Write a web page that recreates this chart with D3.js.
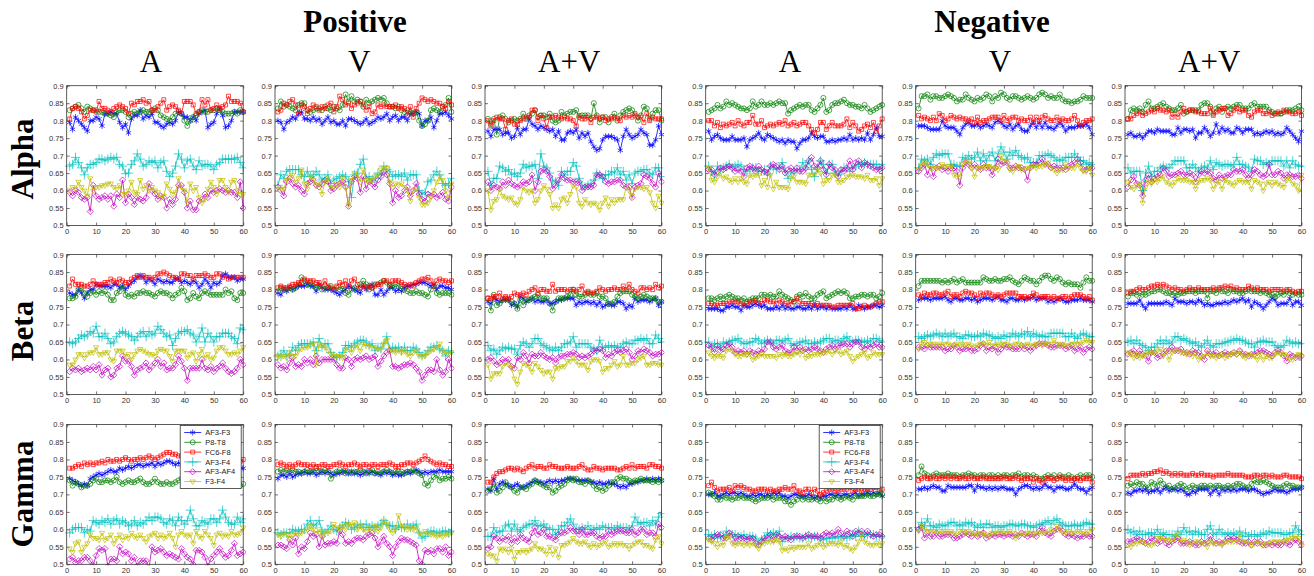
<!DOCTYPE html>
<html><head><meta charset="utf-8">
<script src="https://cdn.jsdelivr.net/npm/d3@7"></script>
<style>body{margin:0;background:#fff}svg{display:block}</style>
</head><body><svg id="c" width="1314" height="576"></svg>
<script>
const groups=["Positive","Negative"];
const conditions=["A","V","A+V","A","V","A+V"];
const bands=["Alpha","Beta","Gamma"];
const seriesNames=["AF3-F3","P8-T8","FC6-F8","AF3-F4","AF3-AF4","F3-F4"];
const xTicks=[0,10,20,30,40,50,60];
const yTicks=[0.5,0.55,0.6,0.65,0.7,0.75,0.8,0.85,0.9];

// each panel: [AF3-F3, P8-T8, FC6-F8, AF3-F4, AF3-AF4, F3-F4], 60 trials
const alphaPosA=[
[.795,.775,.81,.80,.79,.78,.77,.80,.80,.81,.805,.785,.82,.82,.825,.82,.82,.795,.78,.79,.765,.805,.815,.815,.83,.805,.815,.81,.82,.795,.795,.785,.78,.79,.795,.79,.80,.825,.82,.81,.81,.80,.81,.80,.82,.825,.83,.78,.79,.795,.82,.835,.815,.78,.785,.80,.825,.825,.825,.825],
[.83,.835,.84,.845,.835,.825,.84,.835,.83,.83,.825,.825,.82,.82,.815,.81,.825,.83,.83,.825,.81,.82,.825,.82,.825,.83,.825,.825,.83,.835,.83,.815,.81,.805,.80,.81,.82,.825,.82,.80,.785,.80,.81,.815,.825,.83,.825,.825,.83,.83,.835,.83,.825,.82,.82,.82,.825,.82,.83,.825],
[.805,.835,.84,.835,.825,.805,.815,.83,.83,.825,.855,.835,.835,.83,.825,.835,.84,.845,.84,.835,.82,.85,.845,.855,.855,.86,.85,.855,.83,.83,.84,.85,.86,.83,.84,.845,.84,.83,.82,.855,.855,.855,.845,.82,.825,.86,.845,.86,.83,.835,.845,.835,.84,.845,.87,.855,.855,.855,.85,.825],
[.67,.675,.695,.68,.665,.645,.665,.675,.675,.68,.69,.69,.685,.69,.695,.69,.695,.675,.67,.648,.65,.675,.685,.705,.69,.67,.675,.685,.68,.685,.665,.68,.685,.655,.64,.65,.67,.705,.69,.665,.685,.69,.67,.66,.685,.67,.675,.675,.67,.66,.675,.68,.69,.69,.69,.69,.69,.695,.68,.665],
[.595,.585,.60,.595,.58,.575,.58,.54,.615,.585,.575,.58,.585,.575,.585,.555,.59,.58,.63,.565,.59,.58,.56,.58,.575,.57,.58,.62,.60,.59,.575,.585,.58,.55,.575,.56,.575,.615,.615,.595,.55,.57,.545,.545,.57,.575,.59,.58,.60,.595,.60,.605,.60,.595,.60,.595,.595,.58,.625,.55],
[.60,.61,.605,.625,.61,.60,.585,.635,.60,.61,.61,.615,.615,.62,.62,.61,.605,.615,.59,.59,.60,.625,.595,.59,.63,.605,.615,.60,.61,.60,.595,.58,.585,.62,.605,.59,.595,.635,.61,.60,.565,.62,.60,.61,.58,.565,.575,.605,.625,.61,.59,.63,.63,.61,.595,.625,.63,.60,.59,.59]];
const alphaPosV=[
[.80,.795,.775,.795,.80,.81,.805,.82,.825,.805,.805,.80,.81,.80,.805,.79,.80,.81,.795,.80,.79,.79,.80,.785,.805,.805,.80,.795,.79,.795,.805,.79,.795,.80,.81,.805,.81,.82,.80,.81,.815,.80,.81,.81,.80,.82,.82,.825,.82,.785,.80,.80,.81,.78,.80,.82,.82,.825,.815,.805],
[.835,.855,.84,.845,.84,.835,.83,.845,.85,.85,.83,.825,.83,.835,.835,.83,.84,.835,.83,.84,.835,.83,.845,.875,.855,.87,.855,.86,.855,.84,.86,.85,.855,.86,.865,.86,.865,.85,.84,.84,.835,.84,.83,.825,.83,.825,.82,.825,.80,.785,.79,.80,.83,.835,.83,.825,.84,.845,.865,.825],
[.825,.83,.85,.845,.855,.86,.845,.82,.845,.84,.82,.835,.845,.84,.83,.84,.835,.845,.85,.825,.84,.87,.86,.845,.85,.835,.845,.85,.855,.845,.83,.84,.82,.825,.845,.84,.845,.84,.84,.84,.845,.835,.84,.835,.815,.84,.81,.835,.85,.865,.86,.855,.86,.855,.85,.85,.84,.835,.855,.845],
[.615,.645,.635,.655,.66,.66,.66,.66,.645,.64,.655,.64,.645,.655,.645,.63,.635,.645,.62,.63,.635,.64,.645,.64,.625,.58,.645,.65,.675,.69,.635,.64,.63,.635,.65,.645,.67,.66,.655,.64,.645,.645,.64,.65,.63,.645,.645,.645,.60,.59,.595,.625,.63,.645,.655,.645,.62,.615,.62,.635],
[.61,.60,.585,.625,.635,.62,.61,.615,.60,.59,.62,.625,.63,.615,.61,.62,.63,.625,.60,.605,.615,.62,.625,.61,.555,.625,.64,.635,.595,.64,.605,.625,.62,.61,.63,.64,.655,.645,.62,.565,.60,.58,.585,.60,.61,.585,.60,.62,.59,.575,.57,.59,.585,.59,.58,.585,.595,.575,.57,.61],
[.61,.605,.605,.63,.64,.645,.625,.635,.66,.62,.605,.64,.63,.615,.62,.59,.625,.635,.61,.61,.62,.61,.635,.61,.56,.63,.65,.645,.625,.66,.63,.625,.63,.64,.645,.66,.665,.665,.625,.61,.62,.615,.62,.61,.60,.57,.60,.605,.58,.56,.56,.565,.58,.60,.625,.64,.63,.60,.58,.62]];
const alphaPosAV=[
[.77,.755,.775,.775,.775,.76,.765,.765,.75,.755,.78,.76,.775,.775,.805,.79,.785,.775,.785,.78,.775,.77,.775,.755,.77,.745,.745,.765,.77,.765,.775,.75,.765,.755,.765,.74,.725,.715,.72,.745,.755,.755,.755,.75,.745,.715,.755,.775,.76,.75,.755,.76,.775,.765,.76,.73,.73,.745,.785,.76],
[.805,.79,.805,.76,.81,.815,.805,.795,.80,.805,.80,.805,.82,.805,.815,.82,.83,.81,.815,.815,.81,.82,.80,.795,.80,.825,.815,.82,.825,.825,.83,.81,.815,.815,.815,.805,.85,.815,.795,.81,.81,.795,.81,.82,.80,.815,.825,.83,.835,.83,.815,.80,.815,.84,.835,.805,.82,.83,.83,.80],
[.80,.785,.80,.81,.805,.805,.775,.80,.805,.79,.79,.80,.805,.81,.81,.83,.83,.80,.815,.805,.78,.81,.81,.815,.81,.805,.81,.805,.805,.80,.785,.815,.805,.805,.81,.795,.81,.81,.805,.81,.80,.805,.805,.81,.805,.80,.815,.81,.815,.81,.82,.81,.81,.795,.82,.80,.81,.805,.805,.805],
[.655,.615,.635,.635,.67,.665,.655,.66,.645,.65,.64,.65,.675,.665,.67,.67,.675,.635,.705,.67,.665,.65,.63,.625,.615,.655,.645,.655,.655,.68,.67,.635,.615,.61,.615,.62,.63,.65,.645,.635,.645,.645,.655,.65,.665,.645,.655,.63,.645,.62,.65,.655,.655,.66,.66,.65,.645,.665,.665,.64],
[.625,.60,.615,.61,.605,.625,.615,.63,.62,.615,.61,.615,.625,.62,.625,.645,.60,.625,.655,.66,.655,.64,.605,.615,.63,.645,.635,.63,.63,.625,.625,.625,.60,.61,.61,.61,.615,.645,.645,.64,.625,.62,.625,.625,.63,.63,.615,.61,.61,.58,.61,.615,.62,.645,.64,.635,.62,.61,.65,.625],
[.60,.545,.57,.575,.605,.585,.58,.575,.58,.565,.56,.575,.61,.60,.595,.60,.565,.575,.60,.615,.605,.59,.55,.56,.55,.575,.58,.565,.59,.615,.61,.565,.555,.575,.565,.56,.565,.56,.545,.565,.58,.555,.575,.565,.575,.575,.575,.61,.60,.585,.605,.61,.61,.605,.61,.595,.565,.55,.585,.565]];
const alphaNegA=[
[.77,.745,.755,.76,.75,.745,.745,.745,.755,.745,.745,.745,.75,.725,.745,.75,.755,.765,.75,.745,.76,.755,.75,.745,.74,.745,.735,.745,.74,.74,.72,.735,.745,.745,.75,.765,.755,.75,.755,.755,.74,.74,.745,.74,.745,.745,.75,.745,.76,.745,.75,.745,.75,.745,.765,.745,.76,.78,.755,.755],
[.825,.83,.835,.845,.835,.84,.855,.845,.85,.845,.84,.835,.835,.83,.835,.855,.84,.845,.855,.845,.845,.85,.845,.85,.855,.85,.85,.82,.83,.835,.84,.845,.84,.845,.845,.83,.825,.835,.845,.865,.825,.83,.845,.85,.85,.855,.86,.85,.845,.845,.84,.84,.835,.845,.835,.825,.83,.835,.84,.845],
[.80,.80,.785,.795,.78,.79,.785,.79,.795,.785,.80,.79,.785,.795,.795,.815,.79,.79,.80,.78,.785,.79,.785,.79,.795,.79,.80,.785,.79,.795,.785,.79,.795,.795,.785,.775,.765,.775,.795,.795,.775,.785,.795,.785,.785,.785,.79,.805,.78,.795,.785,.77,.775,.785,.79,.78,.795,.77,.785,.805],
[.67,.655,.645,.67,.66,.665,.67,.675,.665,.67,.675,.67,.66,.655,.66,.665,.665,.655,.655,.66,.645,.67,.665,.66,.665,.68,.655,.635,.65,.655,.66,.66,.68,.665,.685,.66,.64,.665,.685,.675,.65,.675,.675,.65,.645,.655,.665,.665,.655,.665,.67,.675,.675,.68,.675,.675,.675,.675,.665,.675],
[.66,.66,.645,.655,.665,.66,.665,.67,.665,.655,.66,.655,.64,.665,.67,.665,.655,.67,.66,.655,.65,.67,.675,.67,.66,.67,.65,.66,.665,.655,.665,.655,.655,.665,.685,.695,.67,.665,.685,.66,.645,.675,.665,.66,.64,.66,.655,.665,.685,.66,.68,.685,.665,.68,.675,.67,.665,.66,.66,.665],
[.665,.63,.625,.64,.65,.635,.64,.63,.625,.635,.625,.635,.625,.62,.645,.64,.645,.645,.615,.63,.61,.645,.605,.625,.61,.61,.61,.605,.635,.64,.625,.625,.625,.62,.645,.645,.645,.66,.65,.62,.63,.63,.645,.645,.625,.625,.63,.64,.64,.645,.64,.64,.64,.635,.645,.63,.63,.635,.615,.635]];
const alphaNegV=[
[.785,.785,.785,.78,.775,.775,.775,.775,.80,.785,.78,.78,.78,.77,.76,.78,.79,.795,.785,.785,.79,.78,.785,.79,.785,.78,.795,.80,.795,.785,.78,.79,.775,.785,.79,.775,.77,.77,.785,.795,.78,.795,.78,.795,.78,.78,.775,.785,.795,.785,.77,.78,.78,.78,.785,.785,.785,.79,.78,.76],
[.835,.87,.87,.875,.86,.87,.87,.865,.865,.87,.875,.87,.865,.855,.86,.86,.875,.865,.86,.855,.865,.86,.865,.875,.87,.855,.87,.865,.88,.875,.865,.86,.87,.87,.865,.86,.865,.87,.865,.86,.865,.875,.88,.875,.865,.87,.865,.865,.875,.86,.855,.855,.85,.855,.855,.86,.87,.865,.865,.865],
[.815,.805,.81,.805,.80,.81,.80,.82,.815,.80,.805,.815,.81,.805,.81,.805,.805,.80,.805,.795,.81,.795,.80,.80,.805,.81,.81,.81,.80,.815,.80,.805,.81,.81,.80,.805,.80,.80,.81,.795,.81,.80,.81,.815,.805,.80,.80,.81,.80,.805,.80,.80,.805,.815,.80,.785,.795,.80,.80,.805],
[.665,.69,.685,.69,.675,.695,.705,.70,.705,.705,.705,.675,.675,.67,.67,.695,.69,.70,.69,.695,.71,.685,.705,.685,.70,.71,.685,.705,.725,.71,.69,.71,.70,.715,.70,.695,.69,.695,.68,.68,.68,.70,.70,.70,.705,.70,.695,.685,.69,.685,.695,.695,.695,.705,.695,.685,.685,.675,.68,.675],
[.655,.665,.675,.645,.67,.64,.665,.67,.66,.665,.655,.665,.665,.655,.615,.665,.68,.675,.665,.675,.665,.66,.675,.665,.665,.645,.665,.69,.675,.68,.68,.665,.665,.67,.665,.665,.66,.63,.665,.675,.675,.68,.69,.675,.675,.665,.67,.665,.665,.665,.66,.67,.675,.68,.69,.68,.66,.66,.665,.665],
[.66,.67,.68,.675,.665,.665,.665,.665,.675,.67,.665,.67,.645,.64,.64,.675,.685,.68,.665,.64,.665,.665,.665,.67,.67,.665,.665,.66,.70,.685,.685,.66,.655,.665,.67,.66,.66,.665,.665,.67,.665,.67,.67,.675,.68,.665,.66,.65,.66,.66,.675,.665,.665,.665,.68,.665,.655,.655,.665,.645]];
const alphaNegAV=[
[.76,.765,.755,.755,.76,.75,.76,.77,.77,.765,.775,.77,.77,.77,.77,.76,.76,.78,.765,.775,.775,.77,.775,.75,.765,.765,.78,.77,.755,.765,.79,.765,.78,.77,.775,.765,.765,.78,.775,.765,.775,.775,.775,.76,.765,.76,.765,.77,.765,.77,.76,.765,.76,.765,.78,.77,.76,.75,.74,.77],
[.805,.83,.835,.83,.835,.825,.845,.855,.835,.835,.84,.845,.85,.84,.835,.83,.83,.835,.845,.82,.825,.83,.83,.83,.83,.845,.85,.85,.84,.82,.835,.84,.825,.835,.84,.835,.84,.845,.845,.835,.835,.835,.845,.85,.84,.84,.84,.84,.83,.825,.82,.82,.82,.825,.83,.83,.83,.835,.84,.83],
[.805,.805,.815,.82,.825,.815,.82,.825,.83,.825,.835,.83,.83,.825,.83,.81,.82,.81,.825,.835,.825,.83,.83,.825,.825,.82,.82,.82,.835,.815,.825,.83,.835,.835,.815,.82,.83,.835,.825,.83,.83,.815,.81,.825,.83,.83,.82,.82,.825,.815,.82,.825,.82,.83,.825,.825,.82,.82,.825,.815],
[.665,.65,.655,.655,.655,.60,.65,.67,.64,.655,.655,.665,.67,.665,.665,.675,.685,.685,.685,.685,.665,.665,.675,.665,.655,.665,.67,.665,.685,.66,.68,.675,.67,.675,.675,.67,.675,.695,.675,.675,.67,.665,.655,.69,.685,.685,.675,.68,.675,.685,.685,.685,.685,.67,.685,.665,.685,.675,.67,.67],
[.61,.63,.64,.62,.615,.585,.63,.645,.625,.635,.64,.645,.665,.655,.64,.645,.645,.65,.655,.645,.645,.65,.645,.625,.645,.655,.65,.655,.65,.635,.63,.645,.635,.64,.645,.645,.66,.655,.655,.66,.645,.635,.645,.66,.655,.645,.64,.645,.675,.645,.645,.655,.65,.635,.645,.645,.64,.64,.645,.635],
[.625,.61,.605,.615,.62,.565,.61,.625,.62,.63,.625,.635,.64,.625,.62,.615,.625,.635,.63,.63,.63,.625,.625,.605,.625,.63,.63,.635,.63,.605,.62,.625,.605,.63,.625,.62,.615,.625,.63,.625,.625,.625,.605,.63,.625,.62,.60,.62,.625,.615,.625,.62,.615,.61,.63,.635,.62,.615,.60,.645]];
const betaPosA=[
[.79,.785,.785,.80,.79,.775,.79,.80,.80,.815,.81,.81,.81,.81,.805,.815,.815,.805,.81,.80,.81,.82,.825,.835,.84,.835,.82,.83,.825,.815,.83,.825,.82,.825,.82,.82,.83,.83,.82,.825,.82,.815,.825,.82,.805,.815,.83,.82,.805,.82,.815,.82,.84,.845,.835,.835,.835,.825,.83,.83],
[.775,.775,.78,.80,.805,.79,.78,.79,.795,.785,.795,.79,.795,.785,.77,.77,.79,.795,.81,.785,.78,.785,.78,.79,.79,.795,.79,.79,.785,.78,.79,.795,.79,.79,.785,.775,.785,.79,.805,.795,.77,.775,.79,.78,.775,.79,.795,.79,.785,.785,.785,.785,.785,.80,.79,.795,.775,.77,.79,.79],
[.81,.83,.815,.815,.815,.81,.81,.815,.825,.815,.815,.815,.82,.82,.83,.825,.82,.83,.825,.82,.82,.83,.835,.84,.835,.84,.835,.835,.83,.835,.845,.845,.85,.845,.84,.835,.835,.83,.845,.845,.84,.84,.83,.84,.84,.84,.845,.84,.835,.835,.845,.845,.835,.84,.83,.835,.835,.835,.835,.835],
[.65,.645,.65,.66,.67,.665,.67,.68,.675,.695,.665,.665,.675,.66,.645,.65,.665,.675,.68,.675,.67,.665,.655,.665,.675,.68,.665,.68,.67,.675,.695,.685,.675,.665,.67,.64,.66,.675,.68,.68,.685,.675,.67,.65,.665,.69,.65,.675,.665,.65,.665,.665,.675,.675,.675,.665,.66,.645,.69,.685],
[.565,.575,.57,.575,.565,.57,.575,.57,.58,.57,.585,.555,.57,.575,.55,.555,.575,.58,.61,.595,.595,.58,.555,.57,.575,.58,.59,.57,.58,.59,.60,.58,.59,.57,.575,.575,.585,.61,.595,.575,.54,.575,.575,.575,.575,.60,.575,.57,.58,.565,.575,.58,.59,.575,.565,.56,.565,.575,.60,.585],
[.585,.585,.60,.615,.615,.605,.615,.62,.62,.635,.615,.615,.62,.62,.60,.595,.625,.625,.625,.61,.615,.60,.615,.625,.63,.625,.62,.615,.615,.61,.625,.63,.625,.625,.61,.595,.625,.625,.625,.625,.605,.615,.62,.595,.615,.63,.605,.615,.60,.605,.625,.635,.635,.625,.615,.615,.62,.615,.625,.635]];
const betaPosV=[
[.79,.785,.80,.795,.805,.80,.805,.81,.81,.81,.815,.81,.81,.795,.815,.805,.80,.80,.80,.795,.79,.785,.795,.80,.81,.805,.80,.795,.79,.81,.80,.81,.815,.785,.785,.80,.785,.795,.805,.805,.795,.80,.795,.805,.81,.81,.815,.815,.82,.82,.82,.815,.81,.815,.80,.81,.81,.805,.805,.80],
[.795,.805,.80,.80,.805,.80,.805,.815,.835,.825,.815,.82,.81,.805,.81,.80,.81,.805,.81,.80,.805,.80,.81,.79,.785,.80,.805,.80,.815,.825,.815,.80,.805,.815,.815,.82,.825,.82,.81,.81,.815,.81,.81,.80,.795,.79,.79,.795,.79,.79,.785,.78,.80,.81,.79,.785,.79,.79,.79,.785],
[.805,.81,.805,.805,.81,.815,.815,.82,.82,.83,.825,.825,.825,.82,.82,.81,.825,.81,.805,.80,.81,.82,.815,.825,.81,.825,.83,.815,.805,.81,.805,.81,.805,.81,.815,.815,.825,.825,.815,.825,.825,.825,.82,.815,.81,.815,.81,.82,.825,.83,.83,.835,.825,.81,.825,.83,.825,.825,.82,.825],
[.61,.615,.625,.61,.615,.635,.625,.64,.645,.645,.645,.645,.65,.625,.66,.635,.645,.645,.62,.61,.605,.61,.62,.64,.64,.635,.645,.65,.655,.655,.65,.64,.645,.625,.635,.63,.645,.665,.63,.635,.63,.635,.625,.635,.625,.625,.635,.63,.62,.61,.615,.625,.635,.635,.64,.63,.625,.61,.625,.62],
[.585,.575,.58,.57,.59,.605,.58,.585,.58,.60,.59,.60,.585,.61,.59,.60,.60,.60,.60,.60,.585,.575,.575,.605,.60,.58,.60,.605,.60,.605,.61,.60,.605,.61,.58,.595,.61,.62,.625,.58,.58,.575,.58,.585,.585,.59,.585,.575,.565,.54,.555,.57,.57,.565,.60,.57,.555,.565,.60,.575],
[.61,.605,.61,.605,.62,.61,.61,.625,.63,.635,.635,.64,.645,.585,.645,.64,.635,.625,.615,.61,.61,.61,.605,.63,.63,.62,.635,.64,.625,.645,.64,.64,.635,.635,.63,.63,.645,.655,.625,.625,.62,.625,.62,.625,.615,.61,.62,.625,.61,.61,.61,.62,.625,.63,.635,.645,.62,.625,.615,.62]];
const betaPosAV=[
[.765,.76,.775,.77,.765,.77,.77,.77,.755,.76,.75,.78,.775,.765,.77,.775,.765,.77,.765,.765,.77,.76,.76,.765,.77,.77,.775,.775,.775,.775,.755,.765,.76,.765,.765,.76,.765,.755,.765,.75,.755,.76,.755,.755,.765,.765,.76,.745,.755,.75,.775,.765,.77,.77,.77,.765,.77,.775,.755,.765],
[.775,.74,.785,.755,.76,.77,.775,.77,.765,.76,.745,.77,.755,.77,.77,.775,.78,.785,.775,.775,.775,.76,.74,.765,.775,.775,.775,.78,.785,.80,.785,.78,.78,.785,.79,.785,.785,.79,.78,.78,.775,.76,.76,.765,.78,.79,.795,.795,.795,.785,.78,.775,.78,.785,.78,.775,.775,.775,.765,.765],
[.775,.775,.78,.78,.79,.775,.78,.775,.78,.79,.785,.785,.79,.785,.795,.80,.805,.79,.80,.80,.795,.795,.815,.795,.80,.80,.80,.795,.80,.80,.795,.80,.81,.79,.795,.79,.79,.795,.805,.80,.795,.80,.80,.805,.80,.80,.81,.80,.815,.80,.795,.79,.805,.805,.80,.805,.80,.815,.805,.81],
[.64,.625,.63,.615,.625,.635,.63,.635,.63,.63,.615,.64,.65,.645,.635,.645,.66,.66,.645,.64,.635,.63,.625,.635,.625,.635,.645,.645,.65,.665,.635,.645,.645,.645,.645,.635,.63,.625,.655,.635,.635,.64,.635,.64,.635,.635,.645,.65,.645,.645,.655,.655,.66,.655,.66,.645,.645,.67,.66,.65],
[.60,.605,.595,.585,.59,.60,.595,.60,.58,.575,.605,.60,.62,.61,.59,.615,.61,.61,.62,.61,.605,.60,.605,.59,.605,.61,.61,.615,.615,.62,.615,.605,.61,.605,.61,.615,.625,.625,.63,.625,.605,.615,.61,.62,.625,.62,.625,.63,.62,.60,.61,.625,.62,.63,.625,.62,.61,.615,.615,.62],
[.585,.545,.56,.56,.56,.58,.59,.585,.575,.545,.53,.565,.59,.585,.58,.565,.59,.58,.57,.56,.565,.565,.545,.575,.575,.58,.58,.595,.595,.605,.595,.585,.585,.585,.57,.595,.60,.60,.595,.565,.575,.575,.585,.595,.58,.585,.61,.585,.585,.59,.59,.60,.605,.61,.585,.585,.59,.59,.585,.585]];
const betaNegA=[
[.745,.745,.745,.745,.74,.74,.75,.75,.755,.75,.75,.74,.755,.75,.75,.755,.76,.755,.75,.755,.745,.745,.745,.75,.745,.755,.745,.75,.745,.745,.75,.75,.745,.745,.75,.745,.755,.745,.75,.75,.745,.75,.745,.745,.745,.745,.75,.745,.755,.745,.745,.755,.75,.745,.75,.75,.755,.755,.75,.755],
[.775,.775,.77,.775,.78,.775,.78,.785,.78,.775,.775,.77,.775,.765,.77,.775,.775,.775,.785,.785,.78,.785,.78,.78,.795,.785,.78,.775,.77,.765,.78,.785,.78,.79,.78,.775,.775,.785,.79,.795,.775,.78,.785,.79,.795,.79,.795,.79,.775,.775,.78,.78,.785,.785,.78,.785,.785,.775,.78,.79],
[.76,.76,.755,.755,.76,.76,.76,.765,.765,.765,.765,.76,.755,.76,.765,.765,.77,.76,.76,.77,.77,.765,.765,.76,.77,.765,.76,.755,.765,.765,.775,.765,.76,.76,.76,.76,.755,.76,.755,.755,.755,.755,.75,.75,.755,.755,.755,.755,.755,.76,.745,.745,.75,.755,.75,.75,.755,.76,.765,.765],
[.65,.635,.645,.645,.635,.65,.645,.65,.655,.655,.66,.65,.645,.645,.65,.65,.66,.655,.645,.65,.655,.65,.645,.655,.655,.65,.655,.66,.645,.64,.645,.65,.65,.655,.645,.645,.65,.645,.65,.655,.66,.66,.65,.655,.655,.65,.66,.665,.655,.65,.655,.655,.65,.65,.655,.65,.66,.66,.655,.65],
[.64,.635,.62,.64,.625,.63,.64,.645,.635,.62,.625,.62,.625,.615,.625,.62,.615,.625,.62,.63,.65,.65,.635,.63,.635,.64,.625,.62,.62,.635,.625,.635,.625,.63,.625,.63,.635,.63,.625,.62,.63,.635,.64,.63,.64,.64,.645,.645,.635,.645,.65,.65,.635,.63,.64,.635,.64,.645,.635,.635],
[.62,.61,.605,.61,.61,.605,.625,.63,.625,.615,.61,.61,.615,.615,.615,.60,.605,.61,.615,.61,.61,.61,.61,.605,.615,.61,.615,.61,.61,.615,.62,.615,.625,.605,.61,.61,.615,.615,.615,.62,.62,.625,.615,.625,.625,.615,.62,.625,.61,.595,.605,.61,.615,.62,.605,.61,.62,.615,.615,.615]];
const betaNegV=[
[.77,.775,.775,.775,.77,.775,.775,.775,.775,.78,.77,.765,.775,.775,.77,.77,.775,.775,.77,.775,.765,.77,.775,.775,.775,.77,.775,.78,.77,.77,.765,.775,.775,.77,.77,.775,.77,.775,.775,.78,.77,.775,.775,.775,.765,.77,.765,.77,.775,.77,.765,.765,.77,.77,.77,.775,.77,.77,.77,.765],
[.81,.825,.825,.825,.825,.825,.825,.825,.82,.825,.82,.825,.83,.82,.825,.83,.82,.82,.82,.82,.82,.82,.835,.83,.825,.825,.83,.825,.825,.83,.83,.835,.825,.82,.815,.825,.835,.83,.825,.825,.815,.825,.835,.84,.84,.83,.825,.835,.83,.82,.815,.82,.815,.815,.815,.805,.82,.835,.825,.825],
[.785,.78,.79,.785,.785,.79,.79,.785,.785,.79,.795,.78,.785,.785,.78,.79,.795,.79,.79,.785,.775,.79,.785,.79,.79,.785,.78,.785,.78,.785,.79,.79,.79,.79,.78,.78,.78,.775,.78,.79,.785,.775,.78,.78,.78,.775,.78,.775,.775,.78,.78,.775,.78,.785,.785,.785,.78,.775,.78,.77],
[.665,.66,.665,.67,.665,.67,.675,.67,.665,.675,.665,.67,.675,.665,.665,.66,.67,.67,.665,.665,.67,.665,.675,.67,.67,.665,.66,.665,.66,.67,.665,.665,.675,.67,.665,.675,.67,.68,.665,.675,.67,.665,.67,.665,.665,.675,.675,.675,.675,.675,.665,.665,.675,.665,.66,.67,.675,.67,.665,.665],
[.635,.635,.63,.64,.635,.635,.635,.635,.635,.625,.63,.63,.64,.635,.625,.63,.63,.635,.625,.625,.63,.64,.645,.625,.635,.63,.635,.62,.63,.64,.635,.635,.63,.63,.63,.64,.63,.635,.625,.635,.64,.645,.645,.645,.64,.635,.635,.64,.64,.64,.63,.635,.64,.625,.63,.635,.62,.63,.635,.63],
[.63,.645,.65,.64,.645,.645,.64,.645,.64,.645,.645,.64,.64,.645,.64,.645,.64,.645,.64,.635,.64,.645,.645,.64,.65,.64,.64,.645,.64,.645,.645,.64,.64,.645,.645,.64,.64,.645,.64,.64,.645,.645,.64,.645,.645,.645,.655,.645,.64,.645,.64,.64,.645,.645,.645,.645,.65,.655,.65,.65]];
const betaNegAV=[
[.76,.76,.76,.76,.77,.755,.745,.76,.76,.76,.76,.76,.76,.765,.76,.755,.775,.765,.765,.765,.76,.765,.765,.76,.77,.765,.755,.76,.755,.755,.76,.76,.76,.765,.76,.765,.77,.765,.77,.775,.765,.77,.75,.765,.76,.755,.745,.755,.765,.775,.77,.755,.76,.76,.76,.775,.755,.765,.765,.755],
[.78,.79,.79,.785,.79,.785,.785,.79,.795,.795,.80,.80,.795,.79,.79,.785,.79,.785,.79,.79,.795,.795,.795,.79,.795,.795,.795,.775,.795,.795,.79,.80,.795,.795,.79,.80,.795,.795,.79,.79,.795,.80,.795,.795,.795,.79,.795,.79,.785,.785,.78,.785,.79,.785,.795,.79,.785,.79,.785,.785],
[.79,.795,.795,.80,.805,.80,.80,.805,.81,.81,.815,.81,.815,.81,.805,.80,.805,.80,.80,.795,.80,.805,.80,.80,.805,.80,.80,.80,.80,.805,.80,.805,.805,.81,.805,.81,.80,.805,.80,.80,.80,.81,.805,.80,.805,.80,.80,.80,.795,.80,.80,.80,.80,.795,.80,.80,.795,.79,.795,.795],
[.65,.655,.645,.655,.645,.64,.635,.625,.635,.635,.645,.655,.645,.655,.645,.65,.665,.665,.655,.66,.655,.65,.645,.65,.64,.635,.645,.655,.64,.635,.645,.645,.645,.65,.65,.655,.655,.66,.655,.655,.65,.645,.645,.635,.65,.65,.655,.65,.65,.65,.64,.635,.635,.64,.655,.65,.645,.65,.645,.645],
[.615,.62,.625,.61,.625,.615,.61,.595,.62,.62,.605,.61,.615,.625,.625,.635,.625,.625,.63,.62,.62,.615,.625,.62,.62,.61,.60,.625,.615,.615,.62,.61,.615,.62,.615,.615,.62,.615,.625,.615,.615,.61,.615,.615,.62,.625,.625,.62,.615,.61,.62,.625,.62,.61,.595,.615,.61,.605,.61,.61],
[.62,.615,.605,.615,.605,.61,.615,.62,.62,.62,.625,.63,.61,.625,.60,.62,.625,.63,.62,.62,.615,.62,.61,.615,.60,.605,.61,.62,.61,.61,.605,.61,.615,.605,.61,.615,.62,.615,.625,.61,.605,.615,.61,.61,.60,.615,.60,.61,.605,.605,.615,.62,.615,.615,.61,.60,.60,.61,.615,.61]];
const gammaPosA=[
[.745,.74,.735,.73,.725,.73,.725,.745,.75,.755,.76,.755,.76,.765,.77,.765,.765,.775,.77,.775,.78,.775,.78,.785,.785,.78,.785,.785,.79,.78,.79,.785,.79,.795,.795,.79,.785,.79,.785,.79,.785,.775,.78,.78,.785,.775,.78,.775,.78,.775,.78,.785,.78,.785,.79,.785,.78,.78,.775,.775],
[.74,.725,.735,.73,.72,.725,.725,.73,.74,.745,.735,.735,.74,.74,.735,.74,.75,.735,.73,.735,.74,.735,.735,.74,.745,.735,.73,.73,.735,.745,.735,.73,.73,.735,.73,.73,.735,.74,.745,.745,.74,.735,.74,.735,.735,.735,.74,.735,.73,.74,.745,.74,.735,.74,.735,.73,.735,.73,.725,.73],
[.775,.775,.78,.785,.78,.79,.785,.79,.785,.79,.79,.795,.79,.80,.795,.795,.80,.795,.80,.805,.80,.795,.80,.80,.805,.80,.805,.81,.805,.80,.805,.81,.815,.82,.82,.815,.815,.81,.81,.805,.80,.805,.80,.80,.805,.80,.795,.80,.80,.805,.80,.80,.805,.80,.795,.80,.80,.79,.795,.80],
[.59,.60,.605,.605,.605,.59,.60,.595,.625,.62,.615,.625,.62,.63,.615,.625,.63,.615,.625,.62,.61,.615,.625,.61,.62,.615,.625,.635,.625,.635,.635,.63,.62,.615,.63,.625,.61,.635,.625,.615,.625,.655,.63,.61,.61,.625,.62,.615,.63,.63,.62,.63,.655,.635,.62,.615,.615,.635,.62,.63],
[.515,.52,.505,.51,.51,.52,.52,.51,.497,.525,.545,.54,.545,.495,.515,.515,.51,.55,.53,.535,.53,.51,.52,.495,.51,.51,.51,.49,.55,.535,.54,.545,.535,.525,.53,.525,.52,.515,.545,.53,.52,.515,.50,.54,.54,.535,.52,.495,.515,.525,.535,.545,.53,.52,.525,.54,.56,.525,.53,.535],
[.545,.535,.56,.565,.535,.55,.56,.585,.575,.575,.57,.59,.57,.575,.585,.56,.575,.585,.57,.58,.575,.59,.58,.575,.585,.575,.565,.58,.585,.59,.575,.585,.575,.58,.59,.575,.55,.585,.595,.585,.58,.585,.56,.595,.58,.575,.595,.585,.575,.555,.585,.59,.58,.585,.58,.595,.585,.585,.59,.605]];
const gammaPosV=[
[.745,.755,.755,.75,.76,.75,.755,.76,.76,.765,.76,.76,.765,.755,.76,.765,.76,.765,.76,.755,.76,.76,.765,.765,.76,.765,.76,.76,.755,.76,.765,.76,.765,.76,.76,.755,.765,.76,.765,.755,.76,.755,.755,.76,.765,.76,.765,.77,.765,.76,.765,.76,.765,.765,.765,.77,.765,.765,.765,.765],
[.765,.77,.765,.77,.765,.77,.765,.765,.76,.765,.77,.765,.765,.775,.765,.765,.77,.765,.745,.76,.765,.77,.765,.76,.765,.76,.765,.765,.77,.765,.76,.765,.77,.76,.765,.76,.765,.77,.765,.76,.765,.765,.765,.76,.765,.765,.77,.765,.76,.755,.73,.725,.74,.75,.755,.74,.745,.745,.75,.745],
[.785,.79,.785,.78,.785,.78,.785,.79,.785,.785,.785,.78,.785,.78,.78,.785,.785,.78,.78,.785,.785,.79,.785,.78,.785,.785,.79,.785,.78,.785,.785,.78,.785,.785,.78,.785,.785,.785,.79,.785,.78,.78,.785,.785,.79,.79,.785,.79,.795,.80,.81,.80,.795,.79,.785,.79,.785,.785,.78,.78],
[.59,.585,.59,.59,.59,.60,.595,.595,.60,.60,.615,.625,.61,.615,.625,.595,.59,.60,.61,.60,.595,.605,.61,.62,.615,.60,.605,.61,.615,.605,.615,.605,.61,.605,.61,.615,.625,.615,.61,.61,.60,.61,.605,.605,.615,.605,.61,.615,.59,.575,.58,.59,.595,.595,.59,.59,.595,.595,.59,.595],
[.555,.555,.55,.545,.57,.555,.575,.53,.55,.545,.565,.59,.58,.585,.55,.58,.555,.56,.56,.565,.56,.595,.585,.56,.565,.56,.57,.575,.575,.57,.58,.585,.59,.575,.55,.565,.58,.56,.55,.525,.55,.565,.575,.57,.57,.565,.56,.555,.51,.50,.54,.535,.54,.53,.545,.545,.535,.55,.525,.535],
[.585,.58,.59,.585,.575,.585,.59,.585,.59,.595,.60,.61,.60,.59,.60,.58,.595,.59,.595,.615,.605,.60,.61,.60,.615,.61,.62,.60,.61,.60,.595,.605,.595,.61,.595,.605,.625,.615,.60,.59,.60,.64,.61,.605,.60,.605,.60,.605,.59,.585,.595,.59,.585,.585,.58,.585,.58,.585,.585,.59]];
const gammaPosAV=[
[.715,.71,.745,.715,.73,.735,.73,.725,.72,.725,.73,.72,.72,.725,.73,.735,.74,.735,.735,.73,.735,.74,.735,.74,.735,.74,.74,.745,.745,.745,.74,.74,.74,.74,.74,.735,.735,.73,.735,.73,.73,.735,.73,.73,.725,.72,.725,.72,.73,.73,.735,.735,.74,.74,.745,.74,.745,.74,.745,.74],
[.71,.715,.73,.705,.71,.72,.735,.725,.72,.71,.705,.72,.72,.715,.725,.73,.74,.735,.73,.725,.72,.72,.705,.71,.72,.725,.73,.74,.745,.74,.745,.735,.735,.73,.74,.735,.725,.715,.72,.71,.715,.725,.735,.735,.745,.75,.745,.745,.74,.735,.74,.74,.745,.74,.74,.74,.735,.74,.735,.74],
[.735,.735,.75,.76,.765,.765,.77,.775,.775,.77,.775,.77,.765,.775,.78,.785,.775,.78,.78,.775,.775,.785,.78,.78,.775,.775,.775,.78,.775,.775,.775,.78,.785,.775,.77,.77,.78,.775,.775,.77,.775,.775,.775,.775,.77,.77,.775,.78,.775,.785,.775,.78,.78,.78,.775,.785,.785,.78,.78,.775],
[.58,.58,.605,.59,.595,.595,.61,.615,.595,.615,.60,.595,.605,.61,.615,.615,.625,.61,.61,.615,.605,.60,.60,.585,.60,.61,.61,.62,.63,.615,.60,.60,.605,.60,.61,.60,.60,.605,.60,.61,.605,.605,.605,.60,.61,.605,.605,.605,.60,.61,.635,.62,.615,.62,.62,.61,.625,.615,.635,.645],
[.545,.55,.58,.575,.565,.575,.57,.58,.56,.575,.565,.585,.575,.57,.565,.59,.605,.585,.59,.60,.58,.58,.575,.57,.585,.59,.59,.595,.605,.595,.595,.585,.60,.585,.585,.59,.59,.58,.575,.58,.58,.595,.585,.59,.595,.595,.595,.59,.59,.60,.585,.59,.60,.60,.585,.59,.59,.58,.615,.605],
[.53,.525,.525,.51,.545,.54,.545,.535,.545,.515,.535,.535,.54,.535,.54,.545,.56,.545,.545,.54,.53,.55,.53,.545,.52,.555,.555,.56,.565,.575,.565,.56,.56,.565,.555,.55,.56,.55,.555,.56,.565,.55,.555,.56,.555,.56,.555,.555,.545,.555,.56,.565,.565,.555,.555,.55,.545,.57,.58,.56]];
const gammaNegA=[
[.70,.70,.705,.695,.695,.70,.705,.70,.705,.705,.70,.705,.70,.695,.695,.70,.695,.70,.70,.695,.70,.695,.705,.70,.705,.695,.695,.69,.695,.70,.70,.695,.695,.695,.70,.695,.69,.695,.69,.695,.695,.70,.70,.695,.70,.695,.70,.70,.695,.70,.705,.695,.70,.70,.705,.70,.705,.70,.705,.695],
[.705,.70,.695,.685,.685,.695,.69,.69,.685,.69,.69,.695,.69,.69,.69,.685,.68,.685,.69,.69,.69,.695,.685,.69,.69,.69,.68,.68,.67,.68,.685,.695,.685,.69,.685,.685,.69,.685,.68,.69,.68,.685,.685,.695,.69,.685,.69,.695,.69,.685,.695,.695,.695,.695,.70,.695,.695,.70,.70,.70],
[.725,.735,.72,.71,.715,.715,.715,.72,.71,.725,.72,.725,.72,.715,.715,.71,.71,.715,.715,.715,.71,.715,.71,.71,.715,.715,.72,.715,.715,.725,.71,.71,.705,.715,.715,.705,.715,.71,.70,.705,.71,.715,.715,.71,.71,.715,.715,.715,.72,.71,.715,.715,.71,.715,.715,.715,.72,.72,.715,.715],
[.585,.58,.585,.575,.58,.58,.595,.585,.585,.585,.58,.58,.585,.575,.58,.58,.575,.56,.57,.575,.59,.585,.59,.585,.595,.565,.575,.575,.58,.575,.58,.575,.575,.58,.58,.575,.58,.58,.575,.57,.575,.575,.575,.58,.575,.58,.58,.575,.58,.585,.58,.595,.58,.585,.585,.585,.585,.58,.58,.58],
[.575,.57,.58,.585,.585,.575,.575,.59,.585,.565,.58,.575,.575,.57,.575,.575,.56,.555,.565,.575,.575,.585,.57,.585,.58,.575,.58,.575,.57,.58,.58,.58,.575,.58,.585,.58,.58,.58,.575,.585,.59,.585,.59,.585,.60,.59,.58,.595,.59,.58,.595,.59,.595,.585,.595,.585,.58,.585,.585,.58],
[.57,.565,.56,.55,.56,.555,.575,.58,.56,.555,.56,.56,.555,.56,.555,.56,.555,.545,.56,.56,.565,.565,.565,.57,.565,.54,.545,.54,.55,.545,.55,.55,.55,.55,.56,.545,.55,.555,.56,.55,.555,.56,.56,.56,.555,.565,.55,.555,.545,.54,.55,.565,.585,.565,.56,.555,.555,.56,.555,.56]];
const gammaNegV=[
[.715,.715,.72,.715,.72,.725,.72,.72,.71,.71,.725,.72,.72,.72,.72,.72,.72,.725,.725,.71,.725,.72,.72,.715,.72,.715,.72,.715,.72,.72,.715,.715,.715,.70,.715,.72,.725,.725,.72,.715,.72,.715,.72,.73,.72,.72,.71,.72,.72,.72,.715,.715,.72,.73,.72,.715,.715,.705,.715,.72],
[.755,.78,.76,.755,.75,.755,.76,.755,.755,.755,.76,.755,.755,.755,.75,.755,.755,.76,.755,.755,.75,.755,.755,.75,.755,.755,.75,.755,.75,.755,.755,.75,.755,.755,.76,.75,.755,.755,.75,.755,.75,.745,.745,.75,.755,.75,.755,.745,.755,.75,.75,.755,.75,.745,.75,.755,.75,.755,.755,.75],
[.74,.745,.75,.745,.745,.75,.745,.745,.75,.745,.75,.745,.75,.745,.745,.75,.745,.745,.75,.745,.745,.745,.75,.745,.745,.745,.745,.745,.745,.75,.745,.745,.745,.75,.745,.74,.745,.745,.745,.735,.745,.74,.735,.745,.745,.745,.74,.745,.75,.745,.74,.745,.74,.745,.745,.74,.745,.745,.745,.735],
[.605,.62,.61,.63,.61,.61,.605,.615,.61,.61,.615,.62,.62,.61,.615,.61,.62,.615,.62,.61,.605,.615,.605,.615,.615,.605,.61,.61,.605,.61,.61,.615,.615,.61,.61,.615,.615,.61,.61,.605,.61,.615,.615,.62,.625,.615,.625,.63,.62,.615,.61,.61,.61,.615,.61,.61,.615,.62,.615,.615],
[.60,.605,.575,.59,.58,.58,.59,.58,.58,.585,.585,.585,.575,.575,.58,.585,.59,.585,.58,.59,.58,.585,.59,.575,.58,.585,.58,.585,.585,.58,.585,.585,.58,.585,.58,.59,.585,.58,.585,.585,.58,.595,.605,.59,.585,.58,.595,.60,.605,.595,.585,.58,.585,.58,.575,.58,.58,.585,.58,.58],
[.595,.61,.60,.595,.595,.595,.59,.595,.59,.595,.59,.595,.59,.585,.595,.595,.59,.595,.59,.585,.585,.59,.585,.585,.58,.59,.59,.59,.595,.59,.59,.595,.59,.575,.585,.59,.585,.59,.59,.585,.59,.59,.59,.595,.59,.60,.595,.61,.60,.59,.59,.595,.59,.59,.595,.59,.595,.585,.595,.60]];
const gammaNegAV=[
[.705,.70,.71,.71,.715,.71,.715,.705,.71,.71,.715,.705,.715,.72,.71,.715,.715,.71,.715,.71,.70,.70,.71,.705,.715,.715,.715,.715,.70,.71,.715,.70,.715,.71,.715,.71,.715,.71,.715,.715,.715,.71,.715,.715,.71,.705,.70,.705,.705,.71,.715,.71,.71,.71,.705,.71,.715,.715,.715,.72],
[.725,.73,.725,.735,.73,.73,.72,.72,.735,.73,.725,.74,.73,.72,.725,.715,.72,.725,.73,.725,.715,.72,.725,.72,.72,.725,.725,.72,.725,.72,.725,.725,.72,.72,.725,.72,.725,.73,.73,.725,.72,.72,.73,.74,.735,.735,.74,.735,.73,.725,.72,.72,.72,.725,.73,.725,.725,.72,.72,.72],
[.745,.755,.755,.755,.755,.76,.755,.76,.76,.765,.765,.77,.76,.765,.76,.755,.76,.755,.76,.755,.755,.755,.76,.755,.755,.76,.755,.755,.755,.75,.755,.755,.755,.755,.76,.755,.755,.755,.755,.755,.75,.75,.75,.755,.755,.75,.755,.755,.75,.755,.75,.75,.75,.755,.755,.75,.75,.75,.75,.745],
[.60,.59,.595,.585,.595,.585,.585,.59,.59,.585,.60,.585,.59,.585,.585,.585,.58,.595,.585,.605,.59,.595,.585,.595,.59,.585,.585,.60,.61,.59,.585,.60,.59,.585,.59,.585,.59,.585,.595,.58,.59,.58,.585,.585,.58,.585,.59,.585,.595,.59,.59,.59,.59,.585,.585,.59,.59,.61,.595,.585],
[.565,.565,.57,.575,.57,.565,.56,.565,.575,.57,.56,.565,.575,.56,.555,.565,.57,.575,.56,.56,.56,.565,.56,.555,.555,.565,.56,.565,.58,.565,.56,.565,.56,.565,.575,.57,.575,.57,.565,.56,.56,.565,.555,.565,.56,.565,.555,.555,.56,.555,.56,.555,.555,.565,.56,.555,.565,.57,.565,.555],
[.555,.55,.56,.56,.565,.565,.56,.555,.555,.56,.575,.575,.57,.57,.57,.565,.58,.585,.565,.57,.565,.555,.56,.565,.565,.56,.56,.55,.565,.56,.56,.56,.555,.565,.565,.565,.565,.565,.585,.565,.565,.56,.555,.56,.565,.56,.555,.56,.56,.565,.565,.565,.565,.565,.57,.57,.575,.58,.575,.56]];

const panels=[
 [alphaPosA,alphaPosV,alphaPosAV,alphaNegA,alphaNegV,alphaNegAV],
 [betaPosA,betaPosV,betaPosAV,betaNegA,betaNegV,betaNegAV],
 [gammaPosA,gammaPosV,gammaPosAV,gammaNegA,gammaNegV,gammaNegAV]];

// ---------- layout / style ----------
const colLeft=[66.7,275,485,705.7,915.7,1125];
const plotW=176.5;
const rowTop=[85.7,254.6,424.5];
const plotH=139.8;
const colors=["#0000ff","#008000","#ff0000","#00bfbf","#bf00bf","#bfbf00"];
const symTypes=[d3.symbolAsterisk||d3.symbolStar,d3.symbolCircle,d3.symbolSquare2||d3.symbolSquare,d3.symbolPlus||d3.symbolCross,d3.symbolDiamond2||d3.symbolDiamond,d3.symbolTriangle2||d3.symbolTriangle];
const symSizes=[26,20,20,30,24,20];
const symRot=[0,0,0,0,0,180];

const svg=d3.select("#c");
svg.append("rect").attr("width",1314).attr("height",576).attr("fill","#fff");
const x=d3.scaleLinear().domain([0,60]).range([0,plotW]);
const y=d3.scaleLinear().domain([0.5,0.9]).range([plotH,0]);
const line=d3.line().x((d,i)=>x(i+1)).y(d=>y(d));
const symPaths=symTypes.map((t,k)=>d3.symbol().type(t).size(symSizes[k])());

const defs=svg.append("defs");
defs.append("clipPath").attr("id","clip").append("rect").attr("x",-3).attr("y",-1).attr("width",plotW+6).attr("height",plotH+2);

panels.forEach((row,r)=>{
  row.forEach((panel,c)=>{
    const g=svg.append("g").attr("transform",`translate(${colLeft[c]},${rowTop[r]})`);
    const tickStyle=sel=>{sel.select(".domain").remove();sel.selectAll(".tick line").attr("stroke","#333").attr("stroke-width",0.7);
      sel.selectAll("text").attr("font-family","Liberation Sans, Arial, sans-serif").attr("font-size","7.5px").attr("fill","#333");};
    g.append("g").attr("transform",`translate(0,${plotH})`)
      .call(d3.axisBottom(x).tickValues(xTicks).tickSizeInner(-3).tickSizeOuter(0).tickPadding(3)).call(tickStyle);
    g.append("g").call(d3.axisTop(x).tickValues(xTicks).tickSizeInner(-3).tickSizeOuter(0).tickFormat("")).call(tickStyle);
    g.append("g").call(d3.axisLeft(y).tickValues(yTicks).tickSizeInner(-3).tickSizeOuter(0).tickPadding(3).tickFormat(d3.format(""))).call(tickStyle);
    g.append("g").attr("transform",`translate(${plotW},0)`).call(d3.axisRight(y).tickValues(yTicks).tickSizeInner(-3).tickSizeOuter(0).tickFormat("")).call(tickStyle);
    const plot=g.append("g").attr("clip-path","url(#clip)");
    panel.forEach((vals,k)=>{
      const sg=plot.append("g");
      sg.append("path").attr("d",line(vals)).attr("fill","none").attr("stroke",colors[k]).attr("stroke-width",0.8);
      sg.selectAll("path.m").data(vals).join("path").attr("class","m")
        .attr("d",symPaths[k])
        .attr("transform",(d,i)=>`translate(${x(i+1)},${y(d)}) rotate(${symRot[k]})`)
        .attr("fill","none").attr("stroke",colors[k]).attr("stroke-width",0.7);
    });
    g.append("rect").attr("width",plotW).attr("height",plotH).attr("fill","none").attr("stroke","#333").attr("stroke-width",0.8);

    if(r===2 && (c===0||c===3)){
      const lw=61,lh=63;
      const lg=g.append("g").attr("transform",`translate(${plotW-lw-2},1)`);
      lg.append("rect").attr("width",lw).attr("height",lh).attr("fill","#fff").attr("stroke","#333").attr("stroke-width",0.8);
      seriesNames.forEach((nm,k)=>{
        const yy=7+k*9.8;
        lg.append("line").attr("x1",4).attr("x2",21).attr("y1",yy).attr("y2",yy).attr("stroke",colors[k]).attr("stroke-width",0.8);
        lg.append("path").attr("d",symPaths[k]).attr("transform",`translate(12.5,${yy}) rotate(${symRot[k]})`).attr("fill","none").attr("stroke",colors[k]).attr("stroke-width",0.7);
        lg.append("text").attr("x",25).attr("y",yy).attr("dy","0.35em").text(nm)
          .attr("font-family","Liberation Sans, Arial, sans-serif").attr("font-size","7.5px").attr("fill","#222");
      });
    }
  });
});

// column titles
colLeft.forEach((cl,c)=>{
  svg.append("text").attr("x",cl+plotW/2-4).attr("y",72).attr("text-anchor","middle")
    .attr("font-family","Liberation Serif, Times New Roman, serif").attr("font-size","31px").attr("fill","#000").text(conditions[c]);
});
// group titles
const groupX=[355,992];
groups.forEach((gname,i)=>{
  svg.append("text").attr("x",groupX[i]).attr("y",32).attr("text-anchor","middle")
    .attr("font-family","Liberation Serif, Times New Roman, serif").attr("font-weight","bold").attr("font-size","31px").attr("fill","#000").text(gname);
});
// row labels
const rowY=[159,331,494];
bands.forEach((b,i)=>{
  svg.append("text").attr("transform",`translate(33,${rowY[i]}) rotate(-90)`).attr("text-anchor","middle")
    .attr("font-family","Liberation Serif, Times New Roman, serif").attr("font-weight","bold").attr("font-size","31px").attr("fill","#000").text(b);
});
</script></body></html>
